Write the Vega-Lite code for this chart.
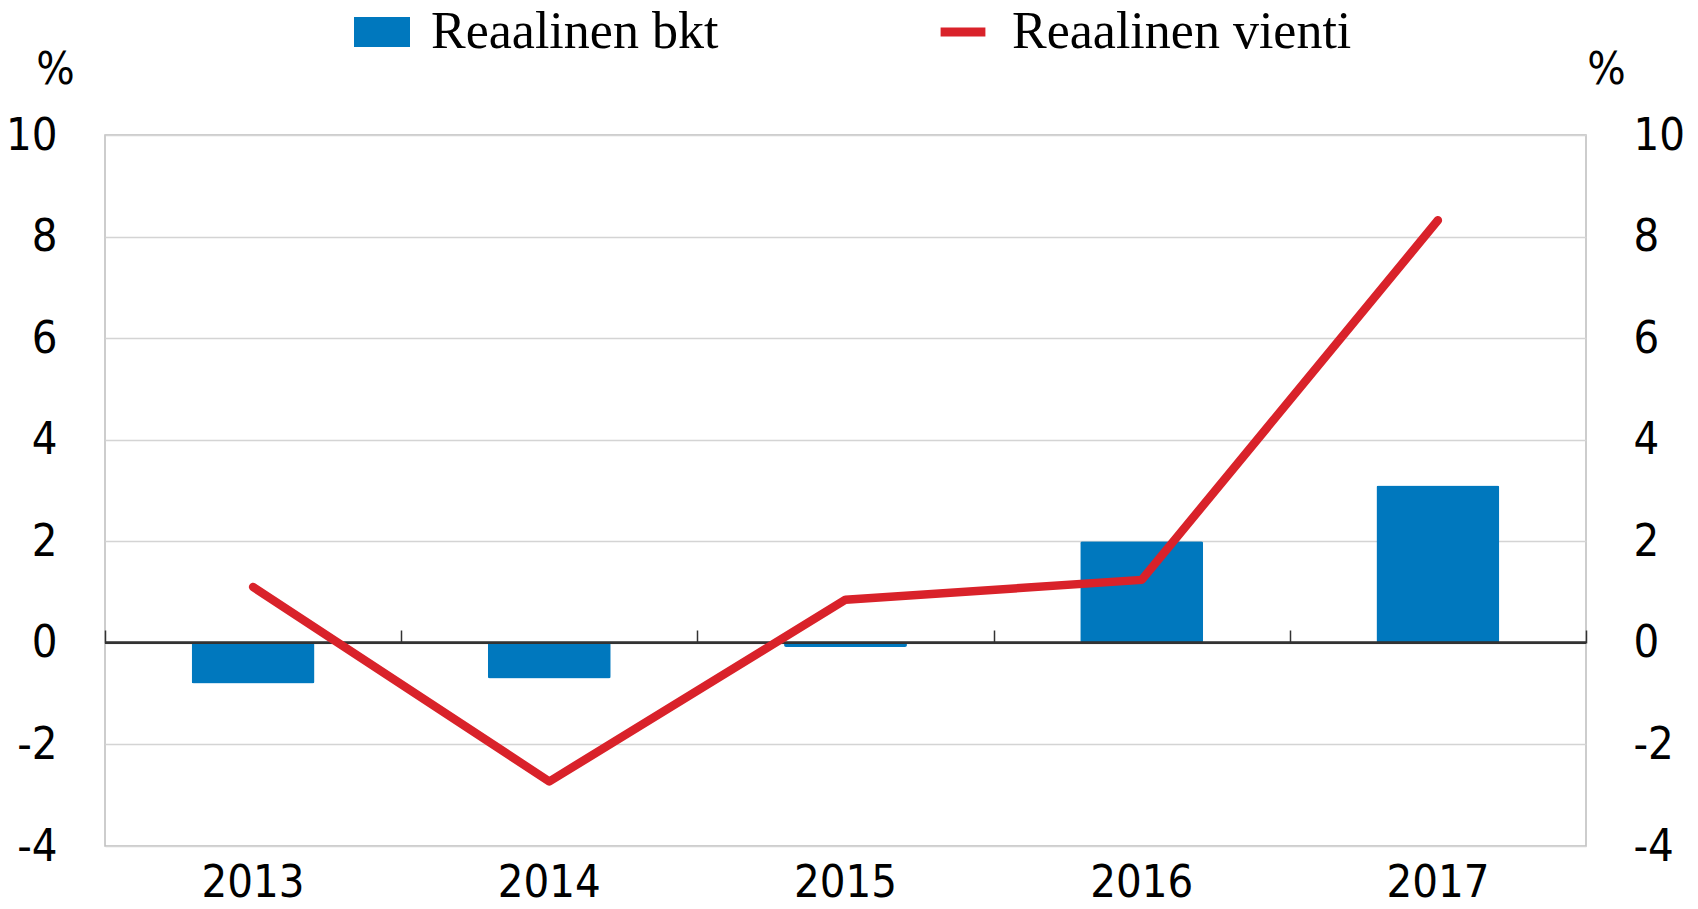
{
  "$schema": "https://vega.github.io/schema/vega-lite/v6.json",
  "width": 1481,
  "height": 711,
  "autosize": "none",
  "padding": {"left": 105, "top": 135, "right": 112, "bottom": 63},
  "background": "white",
  "config": {
    "view": {"stroke": "#bdbdbd", "strokeWidth": 1.5},
    "axis": {
      "labelFont": "DejaVu Sans Condensed, Liberation Sans",
      "labelFontSize": 45,
      "labelColor": "#000000",
      "titleFont": "DejaVu Sans Condensed, Liberation Sans",
      "titleFontSize": 45,
      "titleFontWeight": "normal",
      "titleColor": "#000000"
    }
  },
  "data": {
    "values": [
      {"year": "2013", "bkt": -0.8, "vienti": 1.1},
      {"year": "2014", "bkt": -0.7, "vienti": -2.73},
      {"year": "2015", "bkt": -0.08, "vienti": 0.85},
      {"year": "2016", "bkt": 2.0, "vienti": 1.24},
      {"year": "2017", "bkt": 3.1, "vienti": 8.32}
    ]
  },
  "layer": [
    {
      "mark": {"type": "bar", "width": {"band": 0.415}, "cornerRadius": 2},
      "encoding": {
        "x": {
          "field": "year",
          "type": "nominal",
          "sort": null,
          "scale": {"paddingInner": 0, "paddingOuter": 0},
          "axis": {
            "orient": "bottom",
            "domain": false,
            "ticks": false,
            "tickSize": 0,
            "grid": false,
            "labelAngle": 0,
            "labelPadding": 50,
            "labelBaseline": "alphabetic",
            "title": null
          }
        },
        "y": {
          "field": "bkt",
          "type": "quantitative",
          "scale": {"domain": [-4, 10], "nice": false, "zero": false},
          "axis": {
            "orient": "left",
            "values": [-4, -2, 0, 2, 4, 6, 8, 10],
            "labelExpr": "toString(datum.value)",
            "grid": true,
            "gridColor": "#d4d4d4",
            "gridWidth": 1.5,
            "domain": false,
            "ticks": false,
            "tickSize": 0,
            "labelPadding": 48,
            "title": "%",
            "titleAngle": 0,
            "titleX": -50,
            "titleY": -52,
            "titleAlign": "center",
            "titleBaseline": "alphabetic"
          }
        },
        "color": {
          "datum": "Reaalinen bkt",
          "type": "nominal",
          "scale": {"domain": ["Reaalinen bkt", "Reaalinen vienti"], "range": ["#0078BE", "#D9222A"]},
          "legend": {
            "orient": "none",
            "legendX": 249,
            "legendY": -131,
            "direction": "horizontal",
            "columns": 2,
            "title": null,
            "padding": 0,
            "labelFont": "Liberation Serif",
            "labelFontSize": 52,
            "labelColor": "#000000",
            "labelOffset": 21,
            "labelLimit": 1000,
            "columnPadding": 216,
            "symbolSize": 3136,
            "symbolStrokeWidth": 0,
            "encode": {
              "symbols": {
                "update": {
                  "shape": {"signal": "datum.value === 'Reaalinen bkt' ? 'M-1,-0.54H1V0.54H-1Z' : 'M-0.8,-0.16H0.8V0.16H-0.8Z'"}
                }
              }
            }
          }
        }
      }
    },
    {
      "mark": {"type": "rule", "color": "#333333", "strokeWidth": 2},
      "encoding": {"y": {"datum": 0, "type": "quantitative", "axis": null}}
    },
    {
      "mark": {"type": "line", "color": "#D9222A", "strokeWidth": 8.5, "strokeCap": "round", "strokeJoin": "round"},
      "encoding": {
        "x": {
          "field": "year",
          "type": "nominal",
          "sort": null,
          "axis": {
            "orient": "top",
            "offset": -508,
            "domain": false,
            "labels": false,
            "grid": false,
            "ticks": true,
            "tickBand": "extent",
            "tickSize": 13,
            "tickColor": "#333333",
            "tickWidth": 1.5,
            "title": null
          }
        },
        "y": {
          "field": "vienti",
          "type": "quantitative",
          "axis": {
            "orient": "right",
            "values": [-4, -2, 0, 2, 4, 6, 8, 10],
            "labelExpr": "toString(datum.value)",
            "grid": false,
            "domain": false,
            "ticks": false,
            "tickSize": 0,
            "labelPadding": 47,
            "title": "%",
            "titleAngle": 0,
            "titleX": 20,
            "titleY": -52,
            "titleAlign": "center",
            "titleBaseline": "alphabetic"
          }
        }
      }
    }
  ],
  "resolve": {"axis": {"x": "independent", "y": "independent"}}
}
